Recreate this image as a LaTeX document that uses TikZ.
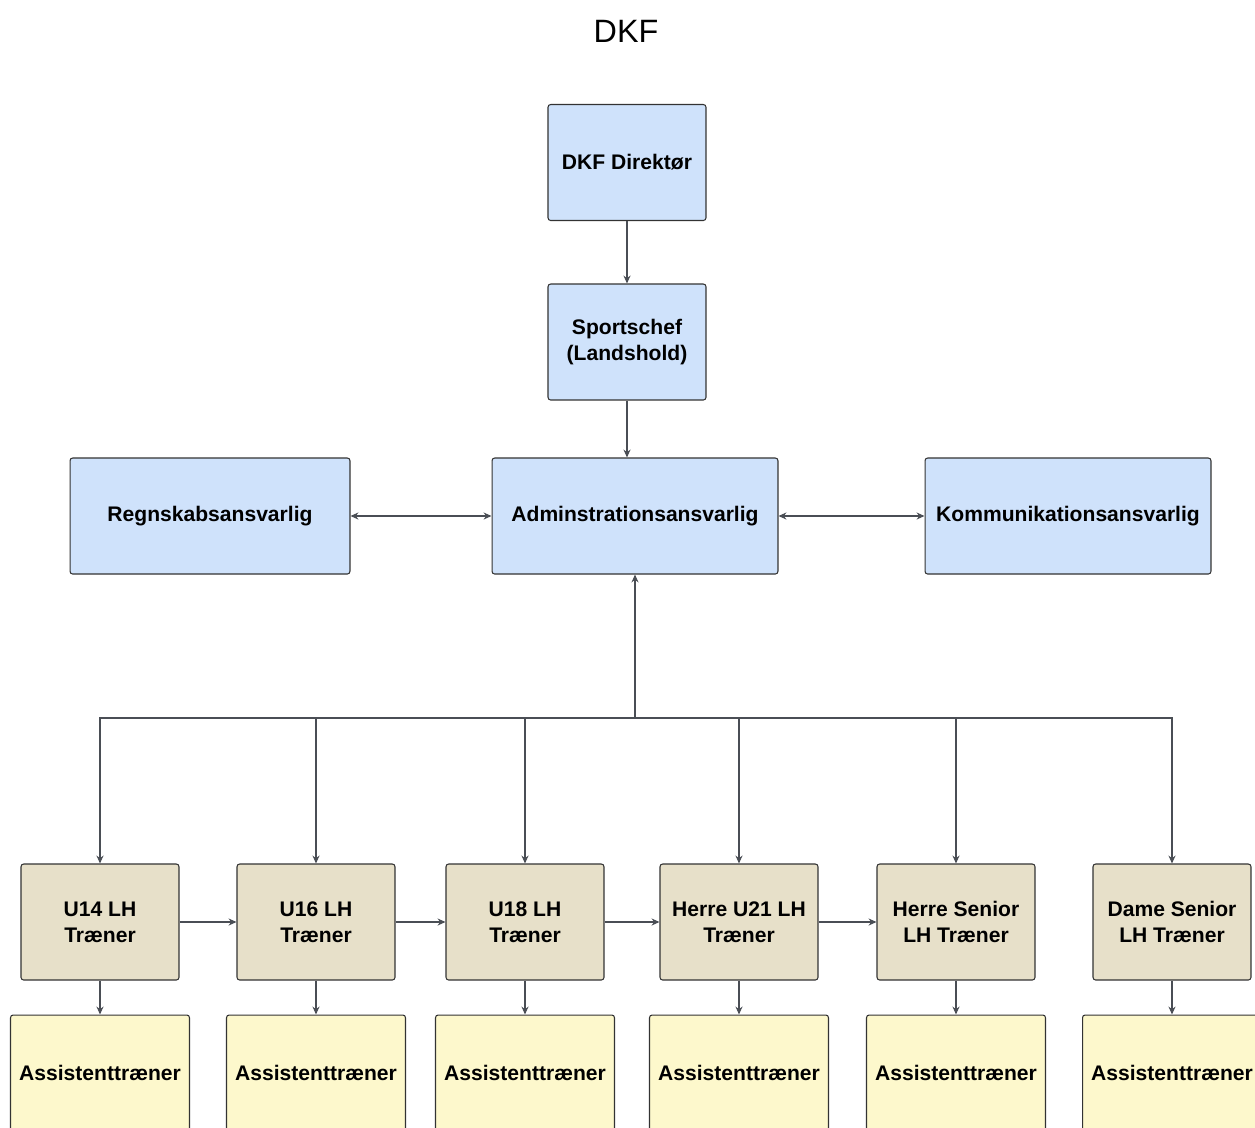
\documentclass[tikz,border=0pt]{standalone}
\usepackage{fontspec}
\setmainfont{Liberation Sans}
\usetikzlibrary{arrows.meta}
\definecolor{boxblue}{HTML}{CFE2FB}
\definecolor{boxtan}{HTML}{E7E0C9}
\definecolor{boxyellow}{HTML}{FDF8CC}
\definecolor{lineg}{HTML}{4A4E55}
\begin{document}
\begin{tikzpicture}[x=0.02cm,y=-0.02cm,
    box/.style={draw=black!80,line width=0.6pt,rounded corners=1.5pt,align=center,
        font=\fontsize{12}{14.7}\selectfont\bfseries,inner sep=2pt},
    topbox/.style={box,fill=boxblue,minimum width=3.16cm,minimum height=2.32cm},
    widebox/.style={box,fill=boxblue,minimum width=5.72cm,minimum height=2.32cm},
    coachbox/.style={box,fill=boxtan,minimum width=3.16cm,minimum height=2.32cm},
    assistbox/.style={box,fill=boxyellow,minimum width=3.58cm,minimum height=2.32cm},
    conn/.style={draw=lineg,line width=0.7pt,-{Stealth[length=4.5pt,width=4pt]}},
    both/.style={conn,{Stealth[length=4.5pt,width=4pt]}-{Stealth[length=4.5pt,width=4pt]}}]
\useasboundingbox (0,0) rectangle (1255,1127);
\clip (0,0) rectangle (1255,1127);

\node (title) at (626,31) {\fontsize{18.4}{22}\selectfont DKF};

\node[topbox] (dir) at (627,162.5) {DKF Direktør};
\node[topbox] (sport) at (627,342) {Sportschef\\(Landshold)};
\node[widebox,minimum width=5.6cm] (regn) at (210,516) {Regnskabsansvarlig};
\node[widebox] (admin) at (635,516) {Adminstrationsansvarlig};
\node[widebox] (komm) at (1068,516) {Kommunikationsansvarlig};

\draw[conn] (dir) -- (sport);
\draw[conn] (sport.south) -- (sport.south |- admin.north);
\draw[both] (regn) -- (admin);
\draw[both] (admin) -- (komm);

% trainers and their assistants
\foreach \n/\x/\t in {U14/100/{U14 LH\\Træner},U16/316/{U16 LH\\Træner},
    U18/525/{U18 LH\\Træner},U21/739/{Herre U21 LH\\Træner},
    HS/956/{Herre Senior\\LH Træner},DS/1172/{Dame Senior\\LH Træner}}{
  \node[coachbox] (\n) at (\x,922) {\t};
  \node[assistbox] (a\n) at (\x,1073) {Assistenttræner};
  \draw[conn] (\n) -- (a\n);
}

\coordinate (bus) at (635,718);
\draw[conn] (bus) -- (bus |- admin.south);
\foreach \n in {U14,U16,U18,U21,HS,DS}{\draw[conn] (bus) -| (\n);}

\draw[conn] (U14) -- (U16);
\draw[conn] (U16) -- (U18);
\draw[conn] (U18) -- (U21);
\draw[conn] (U21) -- (HS);
\end{tikzpicture}
\end{document}
